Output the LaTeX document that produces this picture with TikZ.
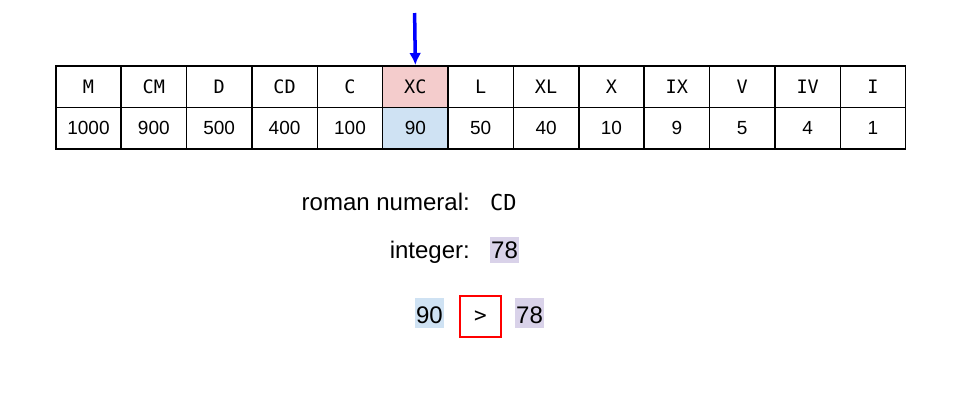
\documentclass[tikz,border=0pt]{standalone}
\usepackage{fontspec}
\setmainfont{Liberation Sans}
\setmonofont{DejaVu Sans Mono}
\usetikzlibrary{positioning, arrows.meta}
\definecolor{pinkcell}{HTML}{F4CCCC}
\definecolor{bluecell}{HTML}{CFE2F3}
\definecolor{purplecell}{HTML}{D9D2E9}

\begin{document}
\begin{tikzpicture}[x=1pt, y=-1pt,
    cell/.style={rectangle, draw, line width=1.5pt, minimum width=65.4pt, minimum height=41.5pt, inner sep=0pt, anchor=north west},
    symtext/.style={font=\fontsize{18.5}{20}\selectfont\ttfamily},
    numtext/.style={font=\fontsize{19}{21}\selectfont},
    labeltext/.style={font=\fontsize{24}{26}\selectfont, inner sep=0pt},
    marked/.style={inner xsep=1pt, inner ysep=0pt, text height=21pt, text depth=5pt}]
    \useasboundingbox (0,0) rectangle (960,400);

    % Table of symbols and values
    \foreach \s/\v/\cs/\cv [count=\i] in {M/1000/white/white, CM/900/white/white, D/500/white/white, CD/400/white/white, C/100/white/white, XC/90/pinkcell/bluecell, L/50/white/white, XL/40/white/white, X/10/white/white, IX/9/white/white, V/5/white/white, IV/4/white/white, I/1/white/white} {
        \node[cell, symtext, fill=\cs] (sym\i) at ({55+(\i-1)*65.38}, 65) {\s};
        \node[cell, numtext, fill=\cv] (val\i) at ({55+(\i-1)*65.38}, 106.5) {\v};
    }

    % Pointer
    \coordinate (pointer) at (414.6,13);
    \draw[-{Latex[length=12pt, width=12pt]}, blue, line width=3.5pt] (pointer) -- (sym6.north);

    % Input and result
    \node[labeltext, anchor=base east] (romanlabel) at (470,210) {roman numeral:};
    \node[labeltext, font=\fontsize{22}{24}\selectfont\ttfamily, anchor=base west] (romanval) at ([xshift=20pt]romanlabel.base east) {CD};
    \node[labeltext, anchor=base east] (intlabel) at (470,258) {integer:};
    \node[labeltext, marked, fill=purplecell, anchor=base west] (intval) at ([xshift=20pt]intlabel.base east) {78};

    % Comparison
    \node[rectangle, draw=red, line width=2pt, minimum size=41pt, inner sep=0pt, font=\fontsize{21}{23}\selectfont\ttfamily] (cmp) at (480.5,316.5) {>};
    \node[labeltext, marked, text height=25pt, fill=bluecell, anchor=base east] (leftval) at ([xshift=-15pt]cmp.west |- 0,323) {90};
    \node[labeltext, marked, text height=25pt, fill=purplecell, anchor=base west] (rightval) at ([xshift=13pt]cmp.east |- 0,323) {78};
\end{tikzpicture}
\end{document}
